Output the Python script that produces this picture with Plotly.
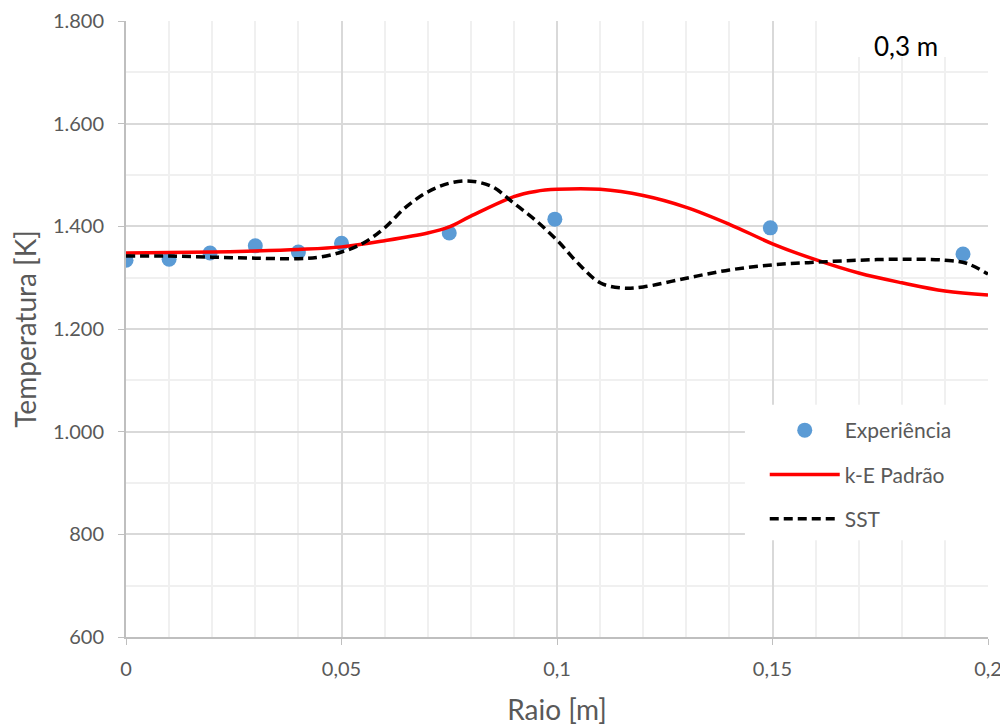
import plotly.graph_objects as go

exp_x = [0, 0.01, 0.0195, 0.03, 0.04, 0.05, 0.075, 0.0995, 0.1495, 0.1942]
exp_y = [1334, 1336, 1348, 1362, 1350, 1367, 1387, 1414, 1397, 1346]

ke_x = [0, 0.01, 0.02, 0.03, 0.04, 0.05, 0.06, 0.07, 0.075, 0.08, 0.09, 0.095, 0.1, 0.11,
        0.12, 0.13, 0.14, 0.15, 0.16, 0.17, 0.18, 0.19, 0.2]
ke_y = [1348, 1349, 1350, 1352, 1355, 1360, 1372, 1387, 1399, 1420, 1458, 1468, 1472, 1472,
        1460, 1437, 1404, 1366, 1335, 1309, 1290, 1274, 1266]

sst_x = [0, 0.01, 0.02, 0.03, 0.04, 0.045, 0.05, 0.055, 0.06, 0.065, 0.07, 0.075, 0.08,
         0.085, 0.09, 0.095, 0.1, 0.105, 0.11, 0.115, 0.12, 0.13, 0.14, 0.15, 0.16, 0.17,
         0.18, 0.19, 0.195, 0.2]
sst_y = [1342, 1342, 1340, 1338, 1337, 1340, 1350, 1367, 1397, 1438, 1467, 1484, 1488,
         1477, 1445, 1412, 1373, 1327, 1290, 1280, 1282, 1299, 1315, 1325, 1330, 1334,
         1336, 1334, 1328, 1307]

fig = go.Figure()
fig.add_trace(go.Scatter(x=exp_x, y=exp_y, mode="markers", name="Experiência",
                         legendgroup="a", marker=dict(size=15, color="#5b9bd5")))
fig.add_trace(go.Scatter(x=ke_x, y=ke_y, mode="lines", name="k-E Padrão",
                         legendgroup="b", line=dict(color="#ff0000", width=3.5, shape="spline")))
fig.add_trace(go.Scatter(x=sst_x, y=sst_y, mode="lines", name="SST",
                         legendgroup="c",
                         line=dict(color="#000000", width=3.5, dash="9px,5px", shape="spline")))

font = "Lato, Open Sans, sans-serif"
fig.update_layout(
    width=1000, height=718,
    margin=dict(l=118, r=20, t=13, b=89),
    plot_bgcolor="white", paper_bgcolor="white",
    separators=",.",
    font=dict(family=font, color="#595959", size=20),
    showlegend=True,
    legend=dict(x=0.741, y=0.3685, xanchor="left", yanchor="top",
                bgcolor="rgba(0,0,0,0)", font=dict(size=21, color="#595959"),
                itemwidth=70, tracegroupgap=14),
    shapes=[
        dict(type="rect", xref="paper", yref="paper", x0=0.718, x1=1.0, y0=0.157, y1=0.377,
             fillcolor="white", line=dict(width=0), layer="above"),
        dict(type="rect", xref="paper", yref="paper", x0=0.8434, x1=0.9756, y0=0.9416, y1=1.03,
             fillcolor="white", line=dict(width=0), layer="above"),
    ],
    annotations=[dict(text="0,3 m", x=0.905, y=0.96, xref="paper", yref="paper",
                      xanchor="center", yanchor="middle",
                      showarrow=False, font=dict(size=26, color="#000000", family=font))],
)
fig.update_xaxes(range=[0, 0.2], dtick=0.05, tick0=0, automargin=False,
                 ticklabelstandoff=7,
                 title=dict(text="Raio [m]", font=dict(size=28, color="#595959"), standoff=30),
                 showline=True, linecolor="#bfbfbf", linewidth=2,
                 ticks="outside", ticklen=6, tickcolor="#bfbfbf",
                 showgrid=True, gridcolor="#d9d9d9", gridwidth=1.5, zeroline=False,
                 minor=dict(dtick=0.01, showgrid=True, gridcolor="#f0f0f0", gridwidth=1.5))
fig.update_yaxes(range=[600, 1800], dtick=200, tick0=600, tickformat=",.0f", automargin=False,
                 ticklabelstandoff=10,
                 title=dict(text="Temperatura [K]", font=dict(size=28, color="#595959"), standoff=12),
                 showline=True, linecolor="#bfbfbf", linewidth=2,
                 ticks="outside", ticklen=6, tickcolor="#bfbfbf",
                 showgrid=True, gridcolor="#d9d9d9", gridwidth=1.5, zeroline=False,
                 minor=dict(dtick=100, showgrid=True, gridcolor="#f0f0f0", gridwidth=1.5))

fig.write_html("out.html")
